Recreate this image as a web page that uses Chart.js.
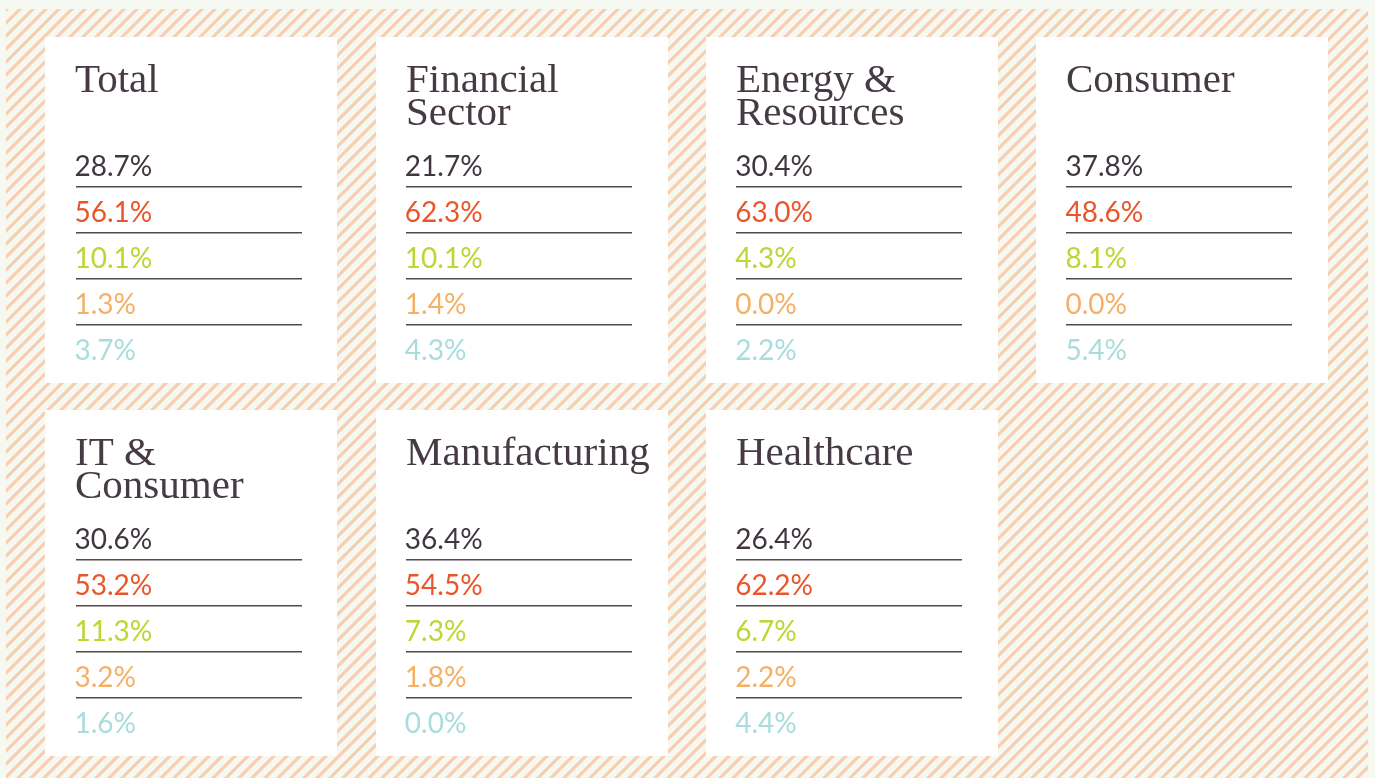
<!DOCTYPE html>
<html>
<head>
<meta charset="utf-8">
<script src="https://cdn.jsdelivr.net/npm/chart.js@4.4.1/dist/chart.umd.min.js"></script>
<style>
  html, body { margin: 0; padding: 0; background: #f6f9f2; }
  canvas { display: block; }
</style>
</head>
<body>
<canvas id="chart" width="1375" height="778"></canvas>
<script>
// sector cards, read left to right, top to bottom
const categories = [
  ['Total'],
  ['Financial', 'Sector'],
  ['Energy &', 'Resources'],
  ['Consumer'],
  ['IT &', 'Consumer'],
  ['Manufacturing'],
  ['Healthcare'],
];
const cardColumn = [0, 1, 2, 3, 0, 1, 2];
const cardRow = [0, 0, 0, 0, 1, 1, 1];

// five shares per sector (%)
const share1 = [28.7, 21.7, 30.4, 37.8, 30.6, 36.4, 26.4];
const share2 = [56.1, 62.3, 63.0, 48.6, 53.2, 54.5, 62.2];
const share3 = [10.1, 10.1, 4.3, 8.1, 11.3, 7.3, 6.7];
const share4 = [1.3, 1.4, 0.0, 0.0, 3.2, 1.8, 2.2];
const share5 = [3.7, 4.3, 2.2, 5.4, 1.6, 0.0, 4.4];

const seriesValues = [share1, share2, share3, share4, share5];
const seriesColors = ['#41353f', '#e8562a', '#bcd632', '#f5b066', '#a9dcdc'];

// layout, in pixels
const COL_STEP = 330.33, ROW_STEP = 373;
const CARD_W = 292, CARD_H = 346;
const PAD_LEFT = 30, TITLE_BASE = 54.5, TITLE_LEAD = 33;
const VALUE_TOP = 139, VALUE_STEP = 46, RULE_W = 226;

const datasets = seriesValues.map((vals, k) => ({
  label: 'Share ' + (k + 1),
  data: vals.map((v, i) => ({
    x: cardColumn[i] + PAD_LEFT / COL_STEP,
    y: cardRow[i] + (VALUE_TOP + k * VALUE_STEP) / ROW_STEP,
    v: v,
  })),
  pointRadius: 0,
  pointHoverRadius: 0,
  color: seriesColors[k],
}));

const cardsPlugin = {
  id: 'cards',
  beforeDatasetsDraw(chart) {
    const ctx = chart.ctx;
    const xs = chart.scales.x, ys = chart.scales.y;
    ctx.save();
    ctx.fillStyle = '#f6f9f2';
    ctx.fillRect(0, 0, chart.width, chart.height);

    // hatched frame
    ctx.save();
    ctx.beginPath();
    ctx.rect(6, 9, 1362, 769);
    ctx.clip();
    ctx.strokeStyle = '#f8cdb0';
    ctx.lineWidth = 3.2;
    for (let s = -800; s < 1400; s += 13) {
      ctx.beginPath();
      ctx.moveTo(s, 790);
      ctx.lineTo(s + 790, 0);
      ctx.stroke();
    }
    ctx.restore();

    // white cards and titles
    categories.forEach((title, i) => {
      const left = Math.round(xs.getPixelForValue(cardColumn[i]));
      const top = Math.round(ys.getPixelForValue(cardRow[i]));
      ctx.fillStyle = '#ffffff';
      ctx.fillRect(left, top, CARD_W, CARD_H);

      ctx.fillStyle = '#463a44';
      ctx.font = '41px "Liberation Serif", serif';
      ctx.textBaseline = 'alphabetic';
      title.forEach((line, j) => {
        ctx.fillText(line, left + PAD_LEFT, top + TITLE_BASE + j * TITLE_LEAD);
      });
    });
    ctx.restore();
  },
  afterDatasetsDraw(chart) {
    const ctx = chart.ctx;
    ctx.save();
    ctx.font = '28px Lato, sans-serif';
    ctx.textBaseline = 'alphabetic';
    chart.data.datasets.forEach((ds, k) => {
      const meta = chart.getDatasetMeta(k);
      meta.data.forEach((pt, i) => {
        ctx.fillStyle = ds.color;
        ctx.fillText(ds.data[i].v.toFixed(1) + '%', pt.x - 1, pt.y);
        if (k < chart.data.datasets.length - 1) {
          ctx.fillStyle = '#54494f';
          ctx.fillRect(Math.round(pt.x), Math.round(pt.y + 10), RULE_W, 1.5);
        }
      });
    });
    ctx.restore();
  },
};

function draw() {
  new Chart(document.getElementById('chart'), {
    type: 'scatter',
    data: { datasets: datasets },
    options: {
      responsive: false,
      animation: false,
      devicePixelRatio: 1,
      layout: { padding: 0 },
      events: [],
      scales: {
        x: { type: 'linear', display: false, min: -45.5 / COL_STEP, max: (1375 - 45.5) / COL_STEP },
        y: { type: 'linear', display: false, reverse: true, min: -37 / ROW_STEP, max: (778 - 37) / ROW_STEP },
      },
      plugins: {
        legend: { display: false },
        tooltip: { enabled: false },
      },
    },
    plugins: [cardsPlugin],
  });
}

Promise.all([
  document.fonts.load('41px "Liberation Serif"'),
  document.fonts.load('28px Lato'),
]).then(draw, draw);
</script>
</body>
</html>
